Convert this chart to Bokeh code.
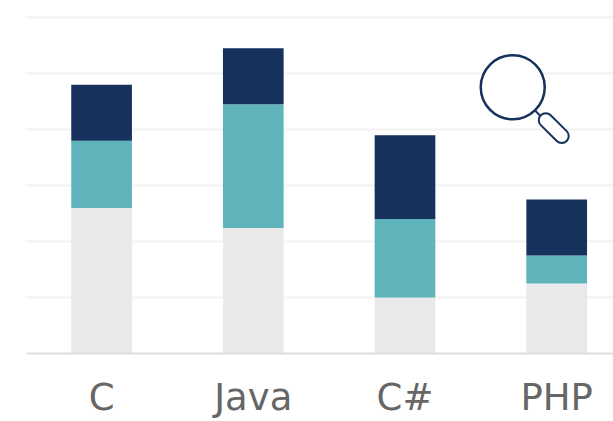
from bokeh.embed import file_html
from bokeh.models import FixedTicker, Range1d
from bokeh.plotting import figure
from bokeh.resources import INLINE

categories = ["C", "Java", "C#", "PHP"]
base_values = [26.0, 22.4, 10.0, 12.5]
middle_values = [12.0, 22.1, 14.0, 5.0]
top_values = [10.0, 10.0, 15.0, 10.0]
y_ticks = [0, 10, 20, 30, 40, 50, 60]

NAVY = "#16325c"
TEAL = "#5fb4bb"
GREY = "#e9e9e9"

# Frame geometry, in window pixels
LEFT, RIGHT, TOP, BOTTOM = 26, 613, 0, 354
HEIGHT = 421
BAND = 151.7
UNIT = 5.615
X_START = 0.005

positions = [i + 0.5 for i in range(len(categories))]

p = figure(
    width=613, height=HEIGHT, output_backend="svg", toolbar_location=None,
    x_range=Range1d(X_START, X_START + (RIGHT - LEFT) / BAND),
    y_range=Range1d(0, (BOTTOM - TOP) / UNIT),
    min_border_left=LEFT, min_border_right=0, min_border_top=0,
    min_border_bottom=HEIGHT - BOTTOM,
    outline_line_color=None, background_fill_color="white",
)

p.yaxis.visible = False
p.yaxis.ticker = FixedTicker(ticks=y_ticks)
p.xgrid.visible = False
p.ygrid.grid_line_color = "#f2f2f2"
p.ygrid.grid_line_width = 2
p.ygrid.ticker = FixedTicker(ticks=y_ticks)

p.xaxis.ticker = FixedTicker(ticks=positions)
p.xaxis.major_label_overrides = dict(zip(positions, categories))
p.xaxis.axis_line_color = "#dddddd"
p.xaxis.axis_line_width = 2
p.xaxis.major_tick_line_color = None
p.xaxis.minor_tick_line_color = None
p.xaxis.major_label_text_font = "DejaVu Sans"
p.xaxis.major_label_text_font_size = "37px"
p.xaxis.major_label_text_color = "#666666"
p.xaxis.major_label_standoff = 16

bottoms = [0.0] * len(categories)
for values, color in ((base_values, GREY), (middle_values, TEAL), (top_values, NAVY)):
    tops = [b + v for b, v in zip(bottoms, values)]
    p.vbar(x=positions, bottom=bottoms, top=tops, width=0.4, fill_color=color, line_color=None)
    bottoms = tops


# Magnifying-glass decoration, placed in window pixels
def px(x):
    return (x - LEFT) / BAND


def py(y):
    return (BOTTOM - y) / UNIT


p.line([px(534), px(541)], [py(109), py(116)], line_color=NAVY, line_width=2)
p.line([px(546), px(562)], [py(120), py(136)], line_color=NAVY, line_width=16, line_cap="round")
p.line([px(546), px(562)], [py(120), py(136)], line_color="white", line_width=12, line_cap="round")
p.circle(x=[px(513)], y=[py(87)], radius=32 / BAND, fill_color="white", line_color=NAVY, line_width=2.5)

open("out.html", "w").write(file_html(p, INLINE))
